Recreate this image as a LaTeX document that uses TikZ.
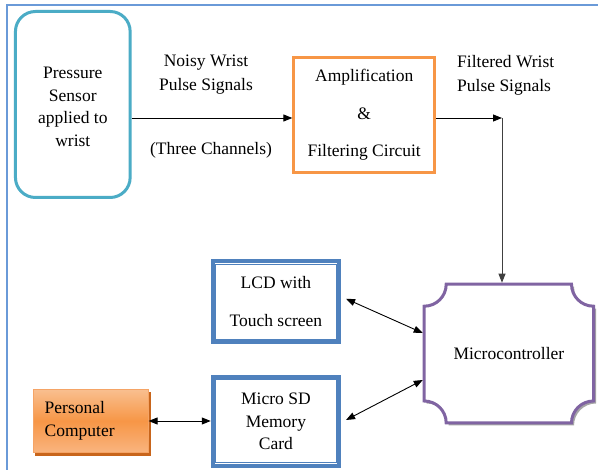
\documentclass[tikz,border=0pt]{standalone}
\usepackage{fontspec}
\setmainfont{Liberation Serif}
\usetikzlibrary{arrows.meta,calc}
\definecolor{cyanb}{HTML}{4BACC6}
\definecolor{orangeb}{HTML}{F79646}
\definecolor{blueb}{HTML}{4F81BD}
\definecolor{purpleb}{HTML}{8064A2}
\definecolor{frameb}{HTML}{6A9AD8}
\definecolor{pctop}{HTML}{F9BF8F}
\definecolor{pcbot}{HTML}{F9B47F}
\definecolor{pcborder}{HTML}{F5A466}
\definecolor{pcshadow}{HTML}{C8651B}
\newcommand{\myplaque}[4]{(#1+22,#2) -- (#3-22,#2) .. controls (#3-22,#2+12.2) and (#3-12.2,#2+22) .. (#3,#2+22)
 -- (#3,#4-22) .. controls (#3-12.2,#4-22) and (#3-22,#4-12.2) .. (#3-22,#4)
 -- (#1+22,#4) .. controls (#1+22,#4-12.2) and (#1+12.2,#4-22) .. (#1,#4-22)
 -- (#1,#2+22) .. controls (#1+12.2,#2+22) and (#1+22,#2+12.2) .. (#1+22,#2) -- cycle}
\begin{document}
\begin{tikzpicture}[x=1pt,y=-1pt,
  font=\fontsize{17.5}{22.7}\selectfont,
  every node/.style={inner sep=0pt},
  lbl/.style={align=center},
  arr/.style={-{Triangle[length=9pt,width=7pt]}, line width=0.9pt},
  darr/.style={{Triangle[length=9pt,width=7pt]}-{Triangle[length=9pt,width=7pt]}, line width=0.9pt},
  sensorbox/.style={draw=cyanb, line width=3pt, rounded corners=20pt, align=center,
    minimum width=114.7pt, minimum height=186pt},
  ampbox/.style={draw=orangeb, line width=3pt, align=center,
    minimum width=140.7pt, minimum height=115.6pt},
  dblbox/.style={draw=blueb, line width=4pt, align=center, minimum width=126.3pt},
  pcbox/.style={draw=pcborder, line width=0.8pt, top color=pctop, bottom color=pcbot,
    middle color=orangeb, align=left, text width=92pt, inner xsep=11.5pt,
    minimum height=63pt}
]
\useasboundingbox (0,0) rectangle (598,470);
\fill[white] (0,0) rectangle (598,470);
% frame
\draw[frameb, line width=1.6pt] (7,471) -- (7,5) -- (599,5);

% nodes
\node[sensorbox] (sensor) at (72.8,104.5) {\raisebox{-2.5pt}[\height][\depth]{\parbox{110pt}{\centering Pressure\\Sensor\\applied to\\wrist}}};
\node[ampbox, font=\fontsize{17.5}{37.5}\selectfont] (amp) at (364.2,115) {Amplification\\\&\\Filtering Circuit};

\node[lbl, font=\fontsize{17.5}{24}\selectfont] (noisy) at (206,75) {Noisy Wrist\\Pulse Signals};
\node[lbl] (three) at (211,150) {(Three Channels)};
\node[align=left, anchor=west, font=\fontsize{17.5}{24}\selectfont] (filt) at (457,75) {Filtered Wrist\\Pulse Signals};

% microcontroller plaque
\fill[gray!70] [xshift=2.5pt,yshift=-2.5pt] \myplaque{424.2}{284.2}{593.5}{423};
\draw[purpleb, line width=3pt, fill=white] \myplaque{424.2}{284.2}{593.5}{423};
\node[draw=none, line width=3pt, minimum width=169.3pt, minimum height=138.8pt] (mc) at (508.9,353.6) {Microcontroller};

% LCD and SD
\node[dblbox, minimum height=81pt, font=\fontsize{17.5}{38}\selectfont] (lcd) at (275.9,301.8) {LCD with\\Touch screen};
\draw[blueb, line width=1pt] ([xshift=5pt,yshift=-5pt]lcd.north west) rectangle ([xshift=-5pt,yshift=5pt]lcd.south east);
\node[dblbox, minimum height=89pt, font=\fontsize{17.5}{22.5}\selectfont] (sd) at (275.9,421.5) {Micro SD\\Memory\\Card};
\draw[blueb, line width=1pt] ([xshift=5pt,yshift=-5pt]sd.north west) rectangle ([xshift=-5pt,yshift=5pt]sd.south east);

% personal computer
\fill[pcshadow] (34.5,392) rectangle (150.5,456);
\node[pcbox] (pc) at (90.7,421) {Personal\\Computer};

% connectors
\coordinate (ain) at ([yshift=-3pt]amp.west);
\draw[arr] (sensor.east |- ain) -- (ain);
\coordinate (bend) at (502,118);
\draw[arr] (amp.east |- bend) -- (bend);
\draw[arr, black!75] (bend) -- (bend |- mc.north);
\draw[darr] ([xshift=5pt,yshift=3pt]lcd.east) -- ([yshift=20.6pt]mc.west);
\draw[darr] ([xshift=5pt,yshift=1.5pt]sd.east) -- ([yshift=-26.4pt]mc.west);
\draw[darr] (pc.east) -- (pc.east -| sd.west);
\end{tikzpicture}
\end{document}
